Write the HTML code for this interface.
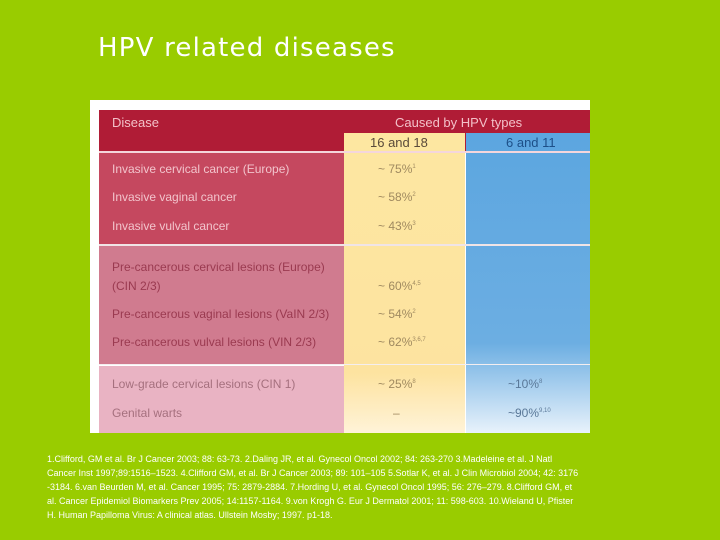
<!DOCTYPE html>
<html><head><meta charset="utf-8">
<style>
body{margin:0;width:720px;height:540px;background:#99cc00;position:relative;overflow:hidden;font-family:"Liberation Sans",sans-serif}
.a{position:absolute}
.t{position:absolute;font-size:12px;white-space:nowrap;line-height:14px}
sup{font-size:6px;line-height:0;vertical-align:5px}
</style></head><body>
<div class="a" style="left:98px;top:33px;font-family:'DejaVu Sans',sans-serif;font-size:26px;letter-spacing:1.2px;color:#fff;">HPV related diseases</div>

<div class="a" style="left:90px;top:100px;width:500px;height:333px;background:#fff">
  <div class="a" style="left:9px;top:10px;width:491px;height:41px;background:#b01c36"></div>
  <div class="a" style="left:254px;top:33px;width:121px;height:300px;background:linear-gradient(#fde7a1,#fde3a0 80%,#fff3d8)"></div>
  <div class="a" style="left:376px;top:33px;width:124px;height:300px;background:linear-gradient(#5ca6e0,#6caee2 70%,#e8f2fb)"></div>
  <div class="a" style="left:9px;top:53px;width:245px;height:91px;background:#c5485f"></div>
  <div class="a" style="left:9px;top:146px;width:245px;height:118px;background:#d07b8f"></div>
  <div class="a" style="left:9px;top:266px;width:245px;height:67px;background:#e9b3c3"></div>
  <div class="a" style="left:9px;top:51px;width:491px;height:2px;background:#f4d6dc"></div>
  <div class="a" style="left:9px;top:144px;width:491px;height:2px;background:#f0e4e6"></div>
  <div class="a" style="left:9px;top:264px;width:491px;height:1px;background:#f4eef0"></div>

  <div class="t" style="left:22px;top:16px;color:#f3c0c8;font-size:13px">Disease</div>
  <div class="t" style="left:305px;top:16px;color:#f3c0c8;font-size:13px">Caused by HPV types</div>
  <div class="t" style="left:280px;top:36px;color:#5a4a3a;font-size:13px">16 and 18</div>
  <div class="t" style="left:416px;top:36px;color:#1d4f88;font-size:13px">6 and 11</div>

  <div class="t" style="left:22px;top:62px;color:#f2c4cc">Invasive cervical cancer (Europe)</div>
  <div class="t" style="left:22px;top:90px;color:#f2c4cc">Invasive vaginal cancer</div>
  <div class="t" style="left:22px;top:119px;color:#f2c4cc">Invasive vulval cancer</div>
  <div class="t" style="left:22px;top:160px;color:#9a3a50">Pre-cancerous cervical lesions (Europe)</div>
  <div class="t" style="left:22px;top:179px;color:#9a3a50">(CIN 2/3)</div>
  <div class="t" style="left:22px;top:207px;color:#9a3a50">Pre-cancerous vaginal lesions (VaIN 2/3)</div>
  <div class="t" style="left:22px;top:235px;color:#9a3a50">Pre-cancerous vulval lesions (VIN 2/3)</div>
  <div class="t" style="left:22px;top:277px;color:#a5707e">Low-grade cervical lesions (CIN 1)</div>
  <div class="t" style="left:22px;top:306px;color:#a5707e">Genital warts</div>

  <div class="t" style="left:288px;top:62px;color:#a08a60">~ 75%<sup>1</sup></div>
  <div class="t" style="left:288px;top:90px;color:#a08a60">~ 58%<sup>2</sup></div>
  <div class="t" style="left:288px;top:119px;color:#a08a60">~ 43%<sup>3</sup></div>
  <div class="t" style="left:288px;top:179px;color:#a08a60">~ 60%<sup>4,5</sup></div>
  <div class="t" style="left:288px;top:207px;color:#a08a60">~ 54%<sup>2</sup></div>
  <div class="t" style="left:288px;top:235px;color:#a08a60">~ 62%<sup>3,6,7</sup></div>
  <div class="t" style="left:288px;top:277px;color:#a08a60">~ 25%<sup>8</sup></div>
  <div class="t" style="left:303px;top:306px;color:#a08a60">–</div>
  <div class="t" style="left:418px;top:277px;color:#5a7898">~10%<sup>8</sup></div>
  <div class="t" style="left:418px;top:306px;color:#5a7898">~90%<sup>9,10</sup></div>
</div>

<div class="a" style="left:47px;top:452px;width:560px;color:#fff;font-size:9px;line-height:14px;white-space:nowrap">
1.Clifford, GM et al. Br J Cancer 2003; 88: 63-73. 2.Daling JR, et al. Gynecol Oncol 2002; 84: 263-270 3.Madeleine et al. J Natl<br>
Cancer Inst 1997;89:1516–1523. 4.Clifford GM, et al. Br J Cancer 2003; 89: 101–105 5.Sotlar K, et al. J Clin Microbiol 2004; 42: 3176<br>
-3184. 6.van Beurden M, et al. Cancer 1995; 75: 2879-2884. 7.Hording U, et al. Gynecol Oncol 1995; 56: 276–279. 8.Clifford GM, et<br>
al. Cancer Epidemiol Biomarkers Prev 2005; 14:1157-1164. 9.von Krogh G. Eur J Dermatol 2001; 11: 598-603. 10.Wieland U, Pfister<br>
H. Human Papilloma Virus: A clinical atlas. Ullstein Mosby; 1997. p1-18.
</div>
</body></html>
